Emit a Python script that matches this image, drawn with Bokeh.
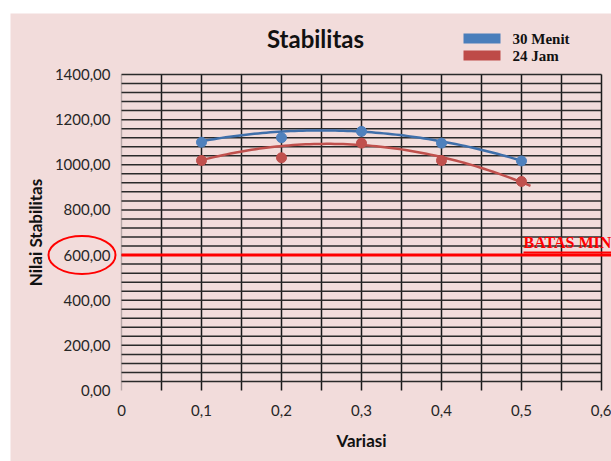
import numpy as np
from bokeh.plotting import figure
from bokeh.models import Range1d, FixedTicker
from bokeh.embed import file_html
from bokeh.resources import INLINE
from bokeh.core.properties import value

# ---------------- data ----------------
variasi = [0.1, 0.2, 0.3, 0.4, 0.5]
stab_30_menit = [1100, 1120, 1148, 1096, 1017]
stab_24_jam = [1019, 1031, 1096, 1019, 926]
# trendline values
trend_30_menit = [1105, 1144, 1152, 1100, 1019]
trend_24_jam = [1020, 1081, 1096, 1025, 926]
batas_minimum = 600
series_names = ["30 Menit", "24 Jam"]
x_ticks = [0, 0.1, 0.2, 0.3, 0.4, 0.5, 0.6]
x_tick_labels = ["0", "0,1", "0,2", "0,3", "0,4", "0,5", "0,6"]
y_ticks = [0, 200, 400, 600, 800, 1000, 1200, 1400]
y_tick_labels = ["0,00", "200,00", "400,00", "600,00", "800,00", "1000,00", "1200,00", "1400,00"]

# ---------------- geometry helpers (page pixels -> data) ----------------
PX_PER_X = 800.0
PX_PER_Y = 316.0 / 1400.0
def dx(px):
    return (px - 121) / PX_PER_X
def dy(py):
    return (390 - py) / PX_PER_Y

PINK = "#F2DCDB"
BLUE = "#4F81BD"
RED = "#C0504D"

p = figure(width=601, height=448,
           x_range=Range1d(dx(10), dx(611)), y_range=Range1d(dy(461), dy(13)),
           output_backend="svg", toolbar_location=None, min_border=0)
p.margin = (13, 0, 0, 10)
p.background_fill_color = PINK
p.border_fill_color = PINK
p.outline_line_color = None
p.xgrid.visible = False
p.ygrid.visible = False

# axes (fixed at the origin, so the frame can cover the whole chart)
for ax in (p.xaxis[0], p.yaxis[0]):
    ax.fixed_location = 0
    ax.axis_line_color = None
    ax.major_tick_line_color = None
    ax.minor_tick_line_color = None
    ax.major_tick_in = 0
    ax.major_tick_out = 0
    ax.major_label_text_font = "Lato"
    ax.major_label_text_font_size = "15px"
    ax.major_label_text_color = "#262626"

p.xaxis.ticker = FixedTicker(ticks=x_ticks)
p.xaxis.major_label_overrides = {t: l for t, l in zip(x_ticks, x_tick_labels)}
p.xaxis.major_label_standoff = 14

p.yaxis.ticker = FixedTicker(ticks=y_ticks)
p.yaxis.major_label_overrides = {t: l for t, l in zip(y_ticks, y_tick_labels)}
p.yaxis.major_label_standoff = 11

# axis titles
p.text(x=[(x_ticks[0] + x_ticks[-1]) / 2], y=[dy(440)], text=["Variasi"],
       text_font=value("Lato"), text_font_style="bold", text_font_size="17px",
       text_color="#111111", text_align="center", text_baseline="middle")
p.text(x=[dx(35)], y=[(y_ticks[0] + y_ticks[-1]) / 2], text=["Nilai Stabilitas"], angle=np.pi / 2,
       text_font=value("Lato"), text_font_style="bold", text_font_size="17px",
       text_color="#111111", text_align="center", text_baseline="middle")

# grid (black lattice)
vx = [i * 0.05 for i in range(1, 13)]
p.segment(x0=[x_ticks[0]], x1=[x_ticks[0]], y0=[y_ticks[0]], y1=[y_ticks[-1]],
          line_color="#b8a8a8", line_width=1.4)
p.segment(x0=vx, x1=vx, y0=[y_ticks[0]] * len(vx), y1=[y_ticks[-1]] * len(vx),
          line_color="#1a1a1a", line_width=1.5)
hy = [40 * i for i in range(1, 36)]
p.segment(x0=[x_ticks[0]] * len(hy), x1=[x_ticks[-1]] * len(hy), y0=hy, y1=hy,
          line_color="#2a2a2a", line_width=1.5)

# minimum line
p.segment(x0=[x_ticks[0]], x1=[dx(611)], y0=[batas_minimum], y1=[batas_minimum],
          line_color="#FF0000", line_width=3)
p.segment(x0=[dx(523)], x1=[dx(611)], y0=[dy(252)], y1=[dy(252)], line_color="#FF0000", line_width=2)
p.text(x=[dx(523)], y=[dy(250)], text=["BATAS MINIMUM"], text_font=value("Liberation Serif"),
       text_font_style="bold", text_font_size="16px", text_color="#FF0000",
       text_align="left", text_baseline="bottom")

# red ring around the 600,00 label
p.ellipse(x=[dx(81.5)], y=[batas_minimum], width=67, height=38,
          width_units="screen", height_units="screen",
          fill_color=None, line_color="#FF0000", line_width=2)

# trendlines
xs30 = np.linspace(variasi[0], variasi[-1], 80)
c30 = np.polyfit(variasi, trend_30_menit, 2)
p.line(xs30, np.polyval(c30, xs30), line_color="#3F6FAA", line_width=2.5)
xs24 = np.linspace(variasi[0], dx(530), 80)
c24 = np.polyfit(variasi, trend_24_jam, 2)
p.line(xs24, np.polyval(c24, xs24), line_color=RED, line_width=2.5)

# points
p.scatter(variasi, stab_30_menit, size=10, color=BLUE)
p.scatter(variasi, stab_24_jam, size=10, color=RED)

# title
p.text(x=[dx(315)], y=[dy(38)], text=["Stabilitas"], text_font=value("Lato"),
       text_font_style="bold", text_font_size="24px", text_color="#111111",
       text_align="center", text_baseline="middle")

# legend (manual)
p.quad(left=[dx(463)] * 2, right=[dx(500)] * 2,
       bottom=[dy(43), dy(60)], top=[dy(33), dy(50)],
       fill_color=["#4A7EBB", "#BE4B48"], line_color=None)
p.text(x=[dx(512)] * 2, y=[dy(38), dy(55)], text=series_names,
       text_font=value("Liberation Serif"), text_font_style="bold", text_font_size="15px",
       text_color="#111111", text_align="left", text_baseline="middle")

open("out.html", "w").write(file_html(p, INLINE))
